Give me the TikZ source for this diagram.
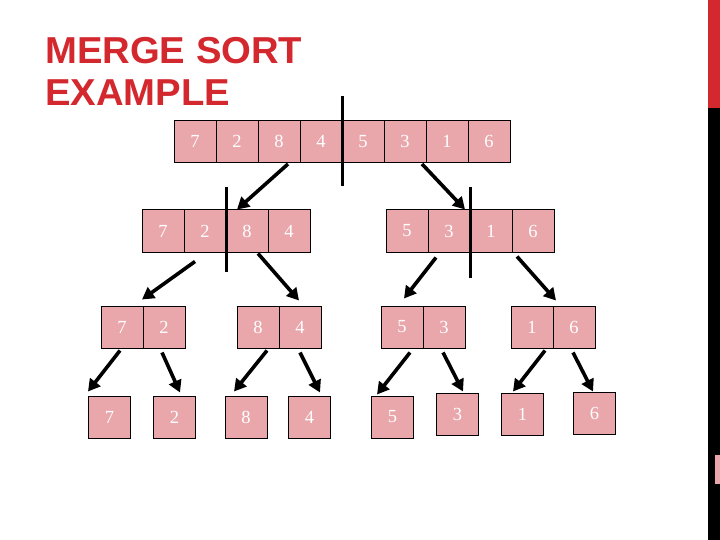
\documentclass[tikz,border=0pt]{standalone}
\usepackage{fontspec}
\setmainfont{Liberation Serif}
\newfontfamily\titlefont{Liberation Sans}
\usetikzlibrary{arrows.meta}
\definecolor{boxpink}{RGB}{233,166,171}
\definecolor{titlered}{RGB}{210,40,46}
\tikzset{
  cell/.style={draw=black, line width=1pt, fill=boxpink, minimum width=42pt, minimum height=42pt, inner sep=0pt, text=white, font=\fontsize{18.5}{18.5}\selectfont},
  arr/.style={line width=3.6pt, -{Triangle[length=12pt,width=13pt]}},
  divider/.style={line width=3pt},
  titletext/.style={anchor=base west, inner sep=0pt, text=titlered, xscale=1.02, font=\titlefont\bfseries\fontsize{37.5}{37.5}\selectfont}
}
\begin{document}
\begin{tikzpicture}[x=1pt,y=-1pt]
\useasboundingbox (0,0) rectangle (720,540);
% right edge decoration
\fill[titlered] (708,0) rectangle (720,108);
\fill[black] (708,108) rectangle (720,540);
\fill[boxpink] (715,455) rectangle (720,484);
% title
\node[titletext] (title1) at (45,64) {MERGE SORT};
\node[titletext] (title2) at (45,106) {EXAMPLE};
% row 1
\foreach \v [count=\i] in {7,2,8,4,5,3,1,6}
  \node[cell] (t\i) at ({174+42*\i-21},141.5) {\v};
% row 2
\node[cell] (b1) at (163,231) {7};
\node[cell] (b2) at (205,231) {2};
\node[cell] (b3) at (247,231) {8};
\node[cell] (b4) at (289,231) {4};
\node[cell] (b5) at (407,231) {5};
\node[cell] (b6) at (449,231) {3};
\node[cell] (b7) at (491,231) {1};
\node[cell] (b8) at (533,231) {6};
% row 3
\node[cell] (a1) at (122,327) {7};
\node[cell] (a2) at (164,327) {2};
\node[cell] (a3) at (258,327) {8};
\node[cell] (a4) at (300,327) {4};
\node[cell] (a5) at (402,327) {5};
\node[cell] (a6) at (444,327) {3};
\node[cell] (a7) at (532,327) {1};
\node[cell] (a8) at (574,327) {6};
% row 4
\node[cell] (c1) at (109.5,417) {7};
\node[cell] (c2) at (174.5,417) {2};
\node[cell] (c3) at (246,417) {8};
\node[cell] (c4) at (309.5,417) {4};
\node[cell] (c5) at (392.5,417) {5};
\node[cell] (c6) at (457.5,414.5) {3};
\node[cell] (c7) at (522.5,414.5) {1};
\node[cell] (c8) at (594.5,413) {6};
% dividers
\coordinate (d1a) at (342,96);  \coordinate (d1b) at (342,186);
\coordinate (d2a) at (226,187); \coordinate (d2b) at (226,272);
\coordinate (d3a) at (470,187); \coordinate (d3b) at (470,278);
\draw[divider] (d1a) -- (d1b);
\draw[divider] (d2a) -- (d2b);
\draw[divider] (d3a) -- (d3b);
% arrows row1 -> row2
\draw[arr] ([xshift=9pt,yshift=-1pt]t3.south) -- ([xshift=-10pt]b3.north);
\draw[arr] ([xshift=17pt,yshift=-1pt]t6.south) -- ([xshift=16pt]b6.north);
% arrows row2 -> row3
\draw[arr] ([shift={(-10pt,-9pt)}]b2.south) -- ([shift={(20pt,6pt)}]a1.north);
\draw[arr] ([shift={(11pt,-1pt)}]b3.south) -- ([shift={(-1pt,5pt)}]a4.north);
\draw[arr] ([shift={(-13pt,-5pt)}]b6.south) -- ([shift={(2pt,7pt)}]a5.north);
\draw[arr] ([shift={(-16pt,-4pt)}]b8.south) -- ([shift={(-18pt,5pt)}]a8.north);
% arrows row3 -> row4
\draw[arr] ([shift={(-2pt,-2pt)}]a1.south) -- ([shift={(-21.5pt,4pt)}]c1.north);
\draw[arr] ([shift={(-2pt,-4pt)}]a2.south) -- ([shift={(5.5pt,3pt)}]c2.north);
\draw[arr] ([shift={(9pt,-2pt)}]a3.south) -- ([shift={(-12pt,4pt)}]c3.north);
\draw[arr] ([shift={(0pt,-4pt)}]a4.south) -- ([shift={(10.5pt,3pt)}]c4.north);
\draw[arr] ([shift={(8pt,-4pt)}]a5.south) -- ([shift={(-15.5pt,1pt)}]c5.north);
\draw[arr] ([shift={(-1pt,-4pt)}]a6.south) -- ([shift={(5.5pt,1.5pt)}]c6.north);
\draw[arr] ([shift={(13pt,-2pt)}]a7.south) -- ([shift={(-9.5pt,1.5pt)}]c7.north);
\draw[arr] ([shift={(-1pt,-4pt)}]a8.south) -- ([shift={(-1.5pt,0pt)}]c8.north);
\end{tikzpicture}
\end{document}
